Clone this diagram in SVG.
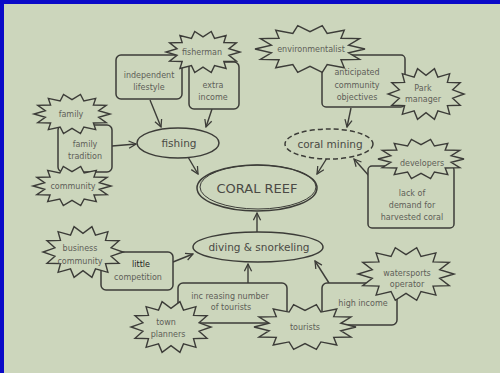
<svg xmlns="http://www.w3.org/2000/svg" xmlns:xlink="http://www.w3.org/1999/xlink" width="500" height="373" viewBox="0 0 500 373">
<style>
.bg{fill:#ccd6bc}
.box{fill:#ccd6bc;stroke:#3c3c38;stroke-width:1.5}
.star{fill:#ccd6bc;stroke:#3c3c38;stroke-width:1.4;stroke-linejoin:miter}
.ell{fill:#ccd6bc;stroke:#3c3c38;stroke-width:1.5}
.t{font-family:"DejaVu Sans","Liberation Sans",sans-serif;font-size:8px;fill:#5e5e58;text-anchor:middle}
.te{font-family:"DejaVu Sans","Liberation Sans",sans-serif;font-size:10.5px;fill:#4a4a45;text-anchor:middle}
.conn{fill:none;stroke:#3c3c38;stroke-width:1.4;marker-end:url(#arr)}
</style>
<defs>
<marker id="arr" viewBox="0 0 10 10" refX="9" refY="5" markerWidth="9" markerHeight="9" orient="auto" markerUnits="userSpaceOnUse">
<path d="M1,1 L9,5 L1,9" fill="none" stroke="#3c3c38" stroke-width="1.4"/>
</marker>
<polygon id="starshape" vector-effect="non-scaling-stroke" points="1,0 .702,.161 .901,.434 .563,.449 .623,.782 .312,.649 .223,.975 0,.72 -.223,.975 -.312,.649 -.623,.782 -.563,.449 -.901,.434 -.702,.161 -1,0 -.702,-.161 -.901,-.434 -.563,-.449 -.623,-.782 -.312,-.649 -.223,-.975 0,-.72 .223,-.975 .312,-.649 .623,-.782 .563,-.449 .901,-.434 .702,-.161"/>
</defs>
<rect class="bg" x="0" y="0" width="500" height="373"/>
<rect x="0" y="0" width="500" height="4" fill="#0a0ac8"/>
<rect x="0" y="0" width="4" height="373" fill="#0a0ac8"/>

<g id="connectors">
<path class="conn" d="M150,100 L161,127"/>
<path class="conn" d="M212,109 L206,127"/>
<path class="conn" d="M112,146 L136,144"/>
<path class="conn" d="M188,157 L198,174"/>
<path class="conn" d="M327,158 L317,174"/>
<path class="conn" d="M351,108 L347,127"/>
<path class="conn" d="M370,177 L354,159"/>
<path class="conn" d="M257,232 L257,213"/>
<path class="conn" d="M173,262 L193,254"/>
<path class="conn" d="M248,283 L248,264"/>
<path class="conn" d="M329,283 L315,261"/>
</g>

<g id="independent-lifestyle"><rect class="box" x="116" y="55" width="66" height="44" rx="5"/><text class="t" x="149" y="78">independent</text><text class="t" x="149" y="90">lifestyle</text></g>
<g id="extra-income"><rect class="box" x="189" y="62" width="50" height="47" rx="5"/><text class="t" x="213" y="88">extra</text><text class="t" x="213" y="100">income</text></g>
<g id="family-tradition"><rect class="box" x="58" y="125" width="54" height="47" rx="5"/><text class="t" x="85" y="147">family</text><text class="t" x="85" y="159">tradition</text></g>
<g id="anticipated"><rect class="box" x="322" y="55" width="83" height="52" rx="4"/><text class="t" x="357" y="75">anticipated</text><text class="t" x="357" y="88">community</text><text class="t" x="357" y="100">objectives</text></g>
<g id="lack-of-demand"><rect class="box" x="368" y="166" width="86" height="62" rx="4"/><text class="t" x="412" y="196">lack of</text><text class="t" x="412" y="208">demand for</text><text class="t" x="412" y="220">harvested coral</text></g>
<g id="little-competition"><rect class="box" x="101" y="252" width="72" height="38" rx="5"/><text class="t" x="141" y="267" style="fill:#222">little</text><text class="t" x="138" y="280">competition</text></g>
<g id="increasing-tourists"><rect class="box" x="178" y="283" width="109" height="40" rx="5"/><text class="t" x="230" y="299">inc reasing number</text><text class="t" x="231" y="310">of tourists</text></g>
<g id="high-income"><rect class="box" x="322" y="283" width="75" height="42" rx="5"/><text class="t" x="363" y="306">high income</text></g>

<g id="fishing"><ellipse class="ell" cx="178" cy="143" rx="41" ry="15"/><text class="te" x="179" y="147">fishing</text></g>
<g id="coral-mining"><ellipse class="ell" cx="329" cy="144" rx="44" ry="15" stroke-dasharray="5,3"/><text class="te" x="330" y="148">coral mining</text></g>
<g id="diving"><ellipse class="ell" cx="258" cy="247" rx="65" ry="15"/><text class="te" x="259" y="251">diving &amp; snorkeling</text></g>
<g id="coral-reef"><ellipse class="ell" cx="257" cy="188" rx="60" ry="23" stroke-width="2.6"/><ellipse cx="258" cy="187" rx="58" ry="22" fill="none" stroke="#3c3c38" stroke-width="1"/><text x="257" y="193" style="font-family:'DejaVu Sans','Liberation Sans',sans-serif;font-size:13px;fill:#4a4a45;text-anchor:middle">CORAL REEF</text></g>

<g id="fisherman"><use xlink:href="#starshape" class="star" transform="translate(203,52) scale(37,21)"/><text class="t" x="202" y="55">fisherman</text></g>
<g id="family"><use xlink:href="#starshape" class="star" transform="translate(72,114) scale(38,20)"/><text class="t" x="71" y="117">family</text></g>
<g id="community"><use xlink:href="#starshape" class="star" transform="translate(72,186) scale(39,20)"/><text class="t" x="73" y="189">community</text></g>
<g id="environmentalist"><use xlink:href="#starshape" class="star" transform="translate(310,49) scale(55,24)"/><text class="t" x="311" y="52">environmentalist</text></g>
<g id="park-manager"><use xlink:href="#starshape" class="star" transform="translate(426,94) scale(38,26)"/><text class="t" x="423" y="91">Park</text><text class="t" x="423" y="102">manager</text></g>
<g id="developers"><use xlink:href="#starshape" class="star" transform="translate(421,159) scale(43,20)"/><text class="t" x="422" y="166">developers</text></g>
<g id="business-community"><use xlink:href="#starshape" class="star" transform="translate(83,252) scale(40,26)"/><text class="t" x="80" y="251">business</text><text class="t" x="80" y="264">community</text></g>
<g id="town-planners"><use xlink:href="#starshape" class="star" transform="translate(171,327) scale(40,26)"/><text class="t" x="166" y="325">town</text><text class="t" x="168" y="337">planners</text></g>
<g id="tourists"><use xlink:href="#starshape" class="star" transform="translate(305,327) scale(51,23)"/><text class="t" x="305" y="330">tourists</text></g>
<g id="watersports-operator"><use xlink:href="#starshape" class="star" transform="translate(406,274) scale(48,27)"/><text class="t" x="407" y="276">watersports</text><text class="t" x="407" y="287">operator</text></g>
</svg>
